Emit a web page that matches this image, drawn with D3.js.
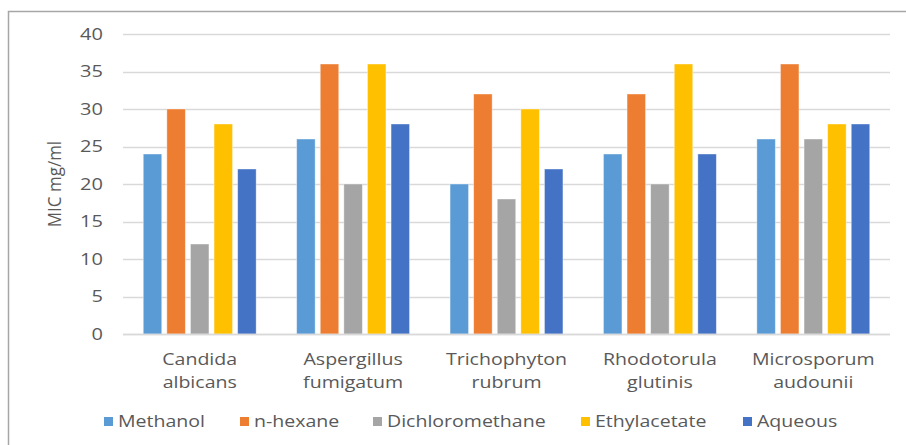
<!DOCTYPE html>
<html>
<head>
<meta charset="utf-8">
<script src="https://cdn.jsdelivr.net/npm/d3@7"></script>
<style>
  html, body { margin: 0; padding: 0; background: #fff; }
  svg { display: block; }
  text { font-family: "Open Sans", "Liberation Sans", sans-serif; fill: #595959; }
</style>
</head>
<body>
<svg id="chart" width="906" height="445"></svg>
<script>
// Fungal species tested
const categories = [
  ["Candida", "albicans"],
  ["Aspergillus", "fumigatum"],
  ["Trichophyton", "rubrum"],
  ["Rhodotorula", "glutinis"],
  ["Microsporum", "audounii"]
];
// Extract solvents
const seriesNames = ["Methanol", "n-hexane", "Dichloromethane", "Ethylacetate", "Aqueous"];
const seriesColors = ["#5B9BD5", "#ED7D31", "#A5A5A5", "#FFC000", "#4472C4"];
// MIC (mg/ml) per solvent, one entry per species
const methanol        = [24, 26, 20, 24, 26];
const nHexane         = [30, 36, 32, 32, 36];
const dichloromethane = [12, 20, 18, 20, 26];
const ethylacetate    = [28, 36, 30, 36, 28];
const aqueous         = [22, 28, 22, 24, 28];
const yTicks = [0, 5, 10, 15, 20, 25, 30, 35, 40];

const seriesValues = [methanol, nHexane, dichloromethane, ethylacetate, aqueous];

const svg = d3.select("#chart");
const plot = { left: 123, right: 890, top: 34, bottom: 334 };
const textStretch = 1.15;

// outer frame (top and left edges visible)
svg.append("path")
  .attr("d", "M8.5,445 L8.5,11.5 L906,11.5")
  .attr("fill", "none")
  .attr("stroke", "#a6a6a6")
  .attr("stroke-width", 1.5);

const x0 = d3.scaleBand()
  .domain(d3.range(categories.length))
  .range([plot.left, plot.right])
  .paddingInner(0).paddingOuter(0);

const x1 = d3.scaleBand()
  .domain(d3.range(seriesNames.length))
  .range([0, x0.bandwidth()])
  .paddingInner(0.216).paddingOuter(0.858);

const y = d3.scaleLinear().domain([0, 40]).range([plot.bottom, plot.top]);

// gridlines
svg.append("g")
  .selectAll("line")
  .data(yTicks)
  .join("line")
  .attr("x1", plot.left).attr("x2", plot.right)
  .attr("y1", d => Math.round(y(d)) + 0.5).attr("y2", d => Math.round(y(d)) + 0.5)
  .attr("stroke", "#d9d9d9").attr("stroke-width", 1.3);

// y tick labels
const yAxis = d3.axisLeft(y).tickValues(yTicks).tickSize(0).tickPadding(0);
const yg = svg.append("g").attr("transform", `translate(${103},0)`).call(yAxis);
yg.select(".domain").remove();
yg.selectAll("text")
  .style("font-size", "16px")
  .attr("fill", "#595959")
  .attr("font-family", "Open Sans, sans-serif")
  .attr("transform", "scale(1.25,1)");

// bars
const groups = svg.append("g")
  .selectAll("g")
  .data(categories)
  .join("g")
  .attr("transform", (d, i) => `translate(${x0(i)},0)`);

groups.selectAll("rect")
  .data((d, i) => seriesValues.map((vals, s) => ({ s, v: vals[i] })))
  .join("rect")
  .attr("x", d => x1(d.s))
  .attr("width", x1.bandwidth())
  .attr("y", d => y(d.v))
  .attr("height", d => y(0) - y(d.v))
  .attr("fill", d => seriesColors[d.s])
  .attr("stroke", "#fff")
  .attr("stroke-opacity", 0.5)
  .attr("stroke-width", 0.8);

// baseline
svg.append("line")
  .attr("x1", plot.left).attr("x2", plot.right)
  .attr("y1", y(0) + 0.5).attr("y2", y(0) + 0.5)
  .attr("stroke", "#d9d9d9").attr("stroke-width", 1.3);

// category labels (two lines)
const xAxisG = svg.append("g");
categories.forEach((lines, i) => {
  const cx = x0(i) + x0.bandwidth() / 2;
  const t = xAxisG.append("text")
    .attr("transform", `translate(${cx},365) scale(${textStretch},1)`)
    .attr("text-anchor", "middle")
    .style("font-size", "17px");
  lines.forEach((ln, k) => {
    t.append("tspan")
      .attr("x", 0)
      .attr("y", k * 23)
      .text(ln);
  });
});

// y axis title
svg.append("text")
  .attr("transform", "translate(61,184) rotate(-90) scale(1,1.12)")
  .attr("text-anchor", "middle")
  .style("font-size", "17px")
  .text("MIC mg/ml");

// legend
const legendTextX = [118, 254, 387, 595, 757];
const legend = svg.append("g")
  .selectAll("g")
  .data(seriesNames)
  .join("g")
  .attr("transform", (d, i) => `translate(${legendTextX[i]},0)`);
legend.append("rect")
  .attr("x", -14).attr("y", 417).attr("width", 9).attr("height", 9)
  .attr("fill", (d, i) => seriesColors[i]);
legend.append("text")
  .attr("transform", `translate(0,427) scale(${textStretch},1)`)
  .style("font-size", "17px")
  .text(d => d);
</script>
</body>
</html>
